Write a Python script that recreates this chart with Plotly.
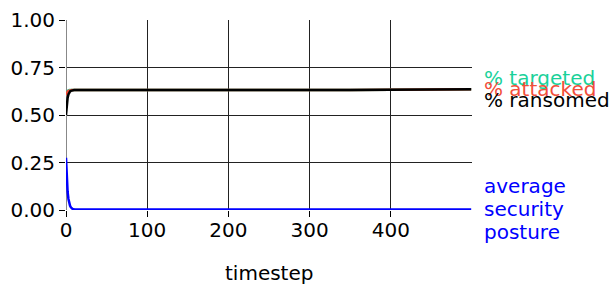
import plotly.graph_objects as go

timestep = [0, 1, 2, 3, 4, 5, 6, 7, 8, 10, 12, 15, 20, 30, 50, 100, 150, 200, 250, 300, 350, 400, 450, 499]
pct_targeted = [0.620, 0.625, 0.628, 0.630, 0.631, 0.631, 0.631, 0.631, 0.631, 0.631, 0.631, 0.631, 0.631, 0.630, 0.630, 0.630, 0.629, 0.629, 0.630, 0.631, 0.632, 0.633, 0.634, 0.635]
pct_attacked = [0.605, 0.618, 0.624, 0.627, 0.629, 0.630, 0.630, 0.631, 0.631, 0.631, 0.631, 0.631, 0.631, 0.630, 0.630, 0.630, 0.629, 0.629, 0.630, 0.631, 0.632, 0.633, 0.634, 0.635]
pct_ransomed = [0.500, 0.560, 0.590, 0.608, 0.618, 0.624, 0.627, 0.629, 0.630, 0.631, 0.631, 0.631, 0.631, 0.630, 0.630, 0.630, 0.629, 0.629, 0.630, 0.631, 0.632, 0.633, 0.634, 0.635]
security_posture = [0.275, 0.160, 0.095, 0.058, 0.036, 0.022, 0.014, 0.009, 0.006, 0.004, 0.003, 0.003, 0.003, 0.003, 0.003, 0.003, 0.003, 0.004, 0.003, 0.003, 0.003, 0.003, 0.003, 0.003]

x_ticks = [0, 100, 200, 300, 400]
y_ticks = [0.0, 0.25, 0.5, 0.75, 1.0]
y_tick_labels = ["0.00", "0.25", "0.50", "0.75", "1.00"]

GREEN = "#1ad19a"
RED = "#f24e3a"
BLUE = "#0000ff"
BLACK = "#000000"
FONT = "DejaVu Sans"

fig = go.Figure()
fig.add_trace(go.Scatter(x=timestep, y=pct_targeted, mode="lines", line=dict(color=GREEN, width=2.5), name="% targeted"))
fig.add_trace(go.Scatter(x=timestep, y=pct_attacked, mode="lines", line=dict(color=RED, width=2.5), name="% attacked"))
fig.add_trace(go.Scatter(x=timestep, y=pct_ransomed, mode="lines", line=dict(color=BLACK, width=2.5), name="% ransomed"))
fig.add_trace(go.Scatter(x=timestep, y=security_posture, mode="lines", line=dict(color=BLUE, width=2.5), name="average security posture"))

annots = [
    ("% targeted", 0.695, GREEN),
    ("% attacked", 0.637, RED),
    ("% ransomed", 0.579, BLACK),
    ("average", 0.126, BLUE),
    ("security", 0.005, BLUE),
    ("posture", -0.116, BLUE),
]
for txt, yv, col in annots:
    fig.add_annotation(x=1, xref="paper", y=yv, yref="paper", text=txt, showarrow=False,
                       xanchor="left", yanchor="middle", xshift=10,
                       font=dict(family=FONT, size=20, color=col))

fig.add_annotation(x=0.5, xref="paper", y=-0.333, yref="paper", text="timestep", showarrow=False,
                   xanchor="center", yanchor="middle",
                   font=dict(family=FONT, size=20, color="black"))

fig.update_layout(
    width=613, height=289,
    margin=dict(l=66, r=141, t=20, b=79),
    plot_bgcolor="white", paper_bgcolor="white",
    showlegend=False,
    font=dict(family=FONT, size=20, color="black"),
    xaxis=dict(range=[0, 500], tickvals=x_ticks, showgrid=True, gridcolor="#222222", gridwidth=1,
               zeroline=True, zerolinecolor="#888888", zerolinewidth=1,
               ticks="outside", ticklen=6, tickcolor="black", showline=False, automargin=False,
               ticklabelstandoff=-4),
    yaxis=dict(range=[0, 1], tickvals=y_ticks, ticktext=y_tick_labels, showgrid=True, gridcolor="#222222", gridwidth=1,
               zeroline=False, ticks="outside", ticklen=6, tickcolor="black", showline=False, automargin=False),
)

fig.write_html("out.html", config={"displayModeBar": False},
               post_script="document.body.style.margin='0px';document.body.style.padding='0px';")
